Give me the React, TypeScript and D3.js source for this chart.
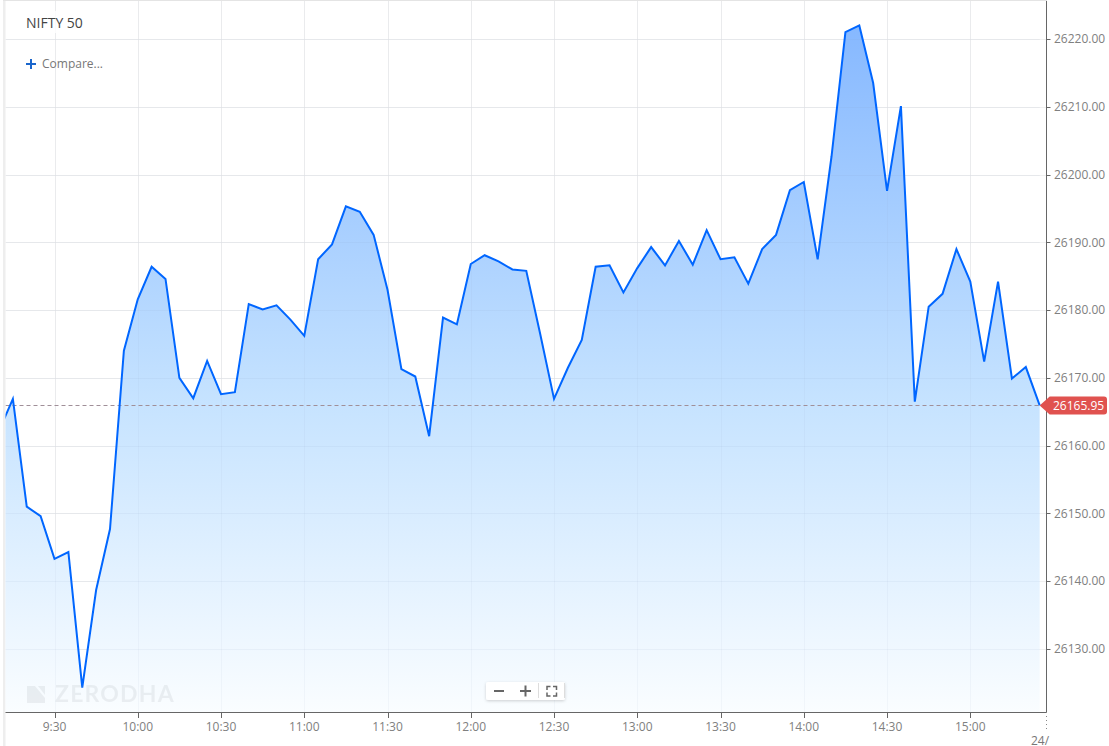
import React from "react";
import * as d3 from "d3";

const prices = [
  26162.2, 26166.9, 26151.0, 26149.6, 26143.3, 26144.3, 26124.3, 26138.7, 26147.7, 26174.0,
  26181.6, 26186.4, 26184.6, 26170.0, 26167.0, 26172.5, 26167.6, 26167.9, 26180.9, 26180.1,
  26180.7, 26178.6, 26176.2, 26187.5, 26189.7, 26195.3, 26194.5, 26191.1, 26183.0, 26171.3,
  26170.2, 26161.4, 26178.9, 26177.9, 26186.8, 26188.1, 26187.2, 26186.0, 26185.8, 26176.5,
  26166.9, 26171.5, 26175.6, 26186.4, 26186.6, 26182.6, 26186.2, 26189.3, 26186.6, 26190.2,
  26186.7, 26191.8, 26187.5, 26187.8, 26183.9, 26189.0, 26191.1, 26197.7, 26198.9, 26187.5,
  26202.7, 26221.0, 26222.0, 26213.5, 26197.6, 26210.1, 26166.5, 26180.5, 26182.4, 26189.0,
  26184.2, 26172.4, 26184.2, 26169.9, 26171.6, 26165.95,
];
const firstMinute = 9 * 60 + 10;
const stepMinutes = 5;
const xTickMinutes = [570, 600, 630, 660, 690, 720, 750, 780, 810, 840, 870, 900];
const xTickLabels = ["9:30", "10:00", "10:30", "11:00", "11:30", "12:00", "12:30", "13:00", "13:30", "14:00", "14:30", "15:00"];
const yTicks = [26130, 26140, 26150, 26160, 26170, 26180, 26190, 26200, 26210, 26220];
const lastPrice = 26165.95;

const FONT = "'Open Sans', sans-serif";
const L = 5.5, R = 1046.5, B = 712;

export default function App() {
  const x = d3.scaleLinear().domain([570, 900]).range([54.5, 970.3]);
  const y = d3.scaleLinear().domain([26130, 26220]).range([649, 39]);
  const pts = prices.map((p, i) => ({ t: firstMinute + i * stepMinutes, p }));
  const line = d3.line<any>().x(d => x(d.t)).y(d => y(d.p));
  const area = d3.area<any>().x(d => x(d.t)).y0(B).y1(d => y(d.p));
  const endX = x(pts[pts.length - 1].t);
  const lastY = Math.round(y(lastPrice)) + 0.5;
  return (
    <svg width={1109} height={746} style={{ position: "absolute", left: 0, top: 0, fontFamily: FONT }}>
      <defs>
        <linearGradient id="fill" gradientUnits="userSpaceOnUse" x1={0} x2={0} y1={25} y2={B}>
          <stop offset="0" stopColor="#86b8ff" />
          <stop offset="0.55" stopColor="#c6e3ff" />
          <stop offset="1" stopColor="#fafdff" />
        </linearGradient>
        <clipPath id="plot"><rect x={L} y={0} width={R - L} height={B} /></clipPath>
        <filter id="sh" x="-10%" y="-30%" width="120%" height="170%">
          <feDropShadow dx={0} dy={1} stdDeviation={1.5} floodColor="#000" floodOpacity={0.18} />
        </filter>
      </defs>
      <rect width={1109} height={746} fill="#fff" />
      <rect x={3} y={0} width={2.5} height={746} fill="#eeeeee" />
      <rect x={3} y={0} width={1044} height={1} fill="#e4e4e4" />

      {xTickMinutes.map(t => (
        <line key={t} x1={Math.round(x(t)) + 0.5} x2={Math.round(x(t)) + 0.5} y1={1} y2={B} stroke="#f2f2f2" />
      ))}
      {yTicks.map(v => (
        <line key={v} x1={L} x2={R} y1={Math.round(y(v)) + 0.5} y2={Math.round(y(v)) + 0.5} stroke="#f0f0f0" />
      ))}

      <g clipPath="url(#plot)">
        <path d={area(pts) ?? ""} fill="url(#fill)" />
        {xTickMinutes.map(t => (
          <line key={t} x1={Math.round(x(t)) + 0.5} x2={Math.round(x(t)) + 0.5} y1={1} y2={B} stroke="#8aa0b8" strokeOpacity={0.07} />
        ))}
        {yTicks.map(v => (
          <line key={v} x1={L} x2={endX} y1={Math.round(y(v)) + 0.5} y2={Math.round(y(v)) + 0.5} stroke="#8aa0b8" strokeOpacity={0.09} />
        ))}
        <line x1={L} x2={endX} y1={lastY} y2={lastY} stroke="#a08f98" strokeDasharray="4 3" />
        <path d={line(pts) ?? ""} fill="none" stroke="#0066ff" strokeWidth={2} strokeLinejoin="miter" />
      </g>

      {/* watermark */}
      <g fill="#9aa0a6" opacity={0.15}>
        <path d="M27 686h8l10 12v5H27z" />
        <path d="M38 686h7v9z" />
        <text x={55} y={702} fontSize={23} fontWeight={700} letterSpacing={1.2} style={{ fontFamily: "Lato, sans-serif" }}>ZERODHA</text>
      </g>

      {/* title */}
      <rect x={22} y={11} width={66} height={22} fill="#fff" fillOpacity={0.8} />
      <text x={26} y={28} fontSize={14} fill="#444">NIFTY 50</text>
      <rect x={26} y={63} width={10} height={2} fill="#1a66cc" />
      <rect x={30} y={59} width={2} height={10} fill="#1a66cc" />
      <text x={42} y={68} fontSize={12} fill="#777">Compare...</text>

      {/* axes */}
      <line x1={L} x2={R} y1={B + 0.5} y2={B + 0.5} stroke="#666" />
      <line x1={R} x2={R} y1={1} y2={B + 1} stroke="#666" />
      {xTickMinutes.map((t, i) => (
        <g key={t}>
          <line x1={Math.round(x(t)) + 0.5} x2={Math.round(x(t)) + 0.5} y1={B} y2={B + 6} stroke="#666" />
          <text x={x(t)} y={731} fontSize={12} fill="#808080" textAnchor="middle">{xTickLabels[i]}</text>
        </g>
      ))}
      {yTicks.map(v => (
        <g key={v}>
          <line x1={R} x2={R + 4} y1={Math.round(y(v)) + 0.5} y2={Math.round(y(v)) + 0.5} stroke="#666" />
          <text x={1054} y={y(v) + 4.2} fontSize={12} fill="#808080">{v.toFixed(2)}</text>
        </g>
      ))}
      <line x1={R} x2={R} y1={B} y2={732} stroke="#888" strokeDasharray="1 3" />
      <text x={1031} y={745} fontSize={12} fill="#777">24/</text>

      {/* last price label */}
      <path d={`M${endX} ${lastY} L${endX + 10} ${lastY - 9} H1104 a3 3 0 0 1 3 3 V${lastY + 6} a3 3 0 0 1 -3 3 H${endX + 10} Z`} fill="#e0524f" />
      <text x={1053} y={lastY + 4.5} fontSize={12} fill="#fff">{lastPrice.toFixed(2)}</text>

      {/* zoom controls */}
      <rect x={486} y={682} width={79} height={18} rx={2} fill="#fff" filter="url(#sh)" />
      <rect x={494} y={690} width={10} height={2} fill="#666" />
      <rect x={520} y={690} width={11} height={2} fill="#666" />
      <rect x={524.5} y={685.5} width={2} height={11} fill="#666" />
      <line x1={538.5} x2={538.5} y1={683} y2={698} stroke="#ddd" />
      <line x1={564.5} x2={564.5} y1={683} y2={698} stroke="#ddd" />
      <path d="M547 690v-3.5h3.5M553 686.5h3.5V690M556.5 692.5v3.5H553M550.5 696H547v-3.5" fill="none" stroke="#666" strokeWidth={1.5} />
    </svg>
  );
}
